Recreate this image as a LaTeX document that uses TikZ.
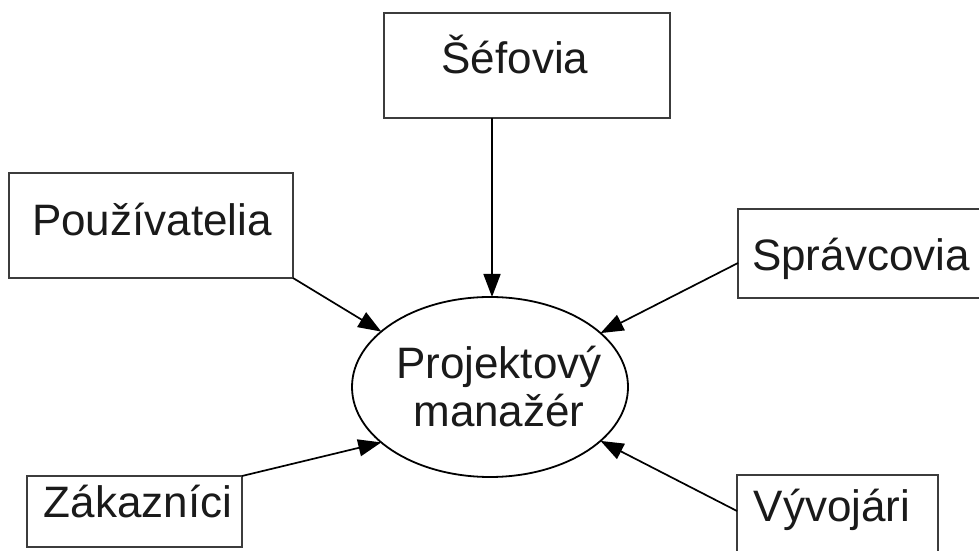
\documentclass[tikz,border=0pt]{standalone}
\usepackage{fontspec}
\setmainfont{Liberation Sans}
\usetikzlibrary{shapes.geometric,arrows.meta}
\definecolor{boxline}{HTML}{3C3C3C}
\definecolor{txt}{HTML}{1A1A1A}
\begin{document}
\begin{tikzpicture}[x=1pt,y=1pt,
  box/.style={draw=boxline,line width=2.8pt,rectangle,inner sep=0pt,outer sep=0pt},
  lbl/.style={anchor=base,inner sep=0pt,text=txt,font=\fontsize{44}{50}\selectfont},
  arr/.style={line width=1.7pt,-{Triangle[length=23pt,width=17pt]}}]
\useasboundingbox (0,0) rectangle (979,551);
\fill[white] (0,0) rectangle (979,551);
\clip (0,0) rectangle (979,551);
% boxes
\node[box,minimum width=286,minimum height=105] (sef) at (527,485.5) {};
\node[box,minimum width=284,minimum height=105] (puz) at (151,325.5) {};
\node[box,minimum width=247,minimum height=89] (spr) at (861.5,297.5) {};
\node[box,minimum width=215,minimum height=71] (zak) at (134.5,39.5) {};
\node[box,minimum width=201,minimum height=95] (vyv) at (837.5,28.5) {};
\node[draw=black,line width=1.8pt,ellipse,minimum width=276,minimum height=180,inner sep=0pt,outer sep=0pt] (ell) at (490,164) {};
% labels
\node[lbl] (tsef) at (515,477) {Šéfovia};
\node[lbl] (tpuz) at (152,315) {Používatelia};
\node[lbl] (tspr) at (861,280) {Správcovia};
\node[lbl] (tpm1) at (499,172) {Projektový};
\node[lbl] (tpm2) at (499,124) {manažér};
\node[lbl] (tzak) at (138,33) {Zákazníci};
\node[lbl] (tvyv) at (832,29) {Vývojári};
% connectors
\draw[arr] ([xshift=2pt]ell.north |- sef.south) -- ([xshift=2pt]ell.north);
\draw[arr] (puz.south east) -- (ell.153);
\draw[arr] ([yshift=-9.5pt]spr.west) -- (ell.26);
\draw[arr] (zak.north east) -- (ell.207);
\draw[arr] ([yshift=11.5pt]vyv.west) -- (ell.334);
\end{tikzpicture}
\end{document}
